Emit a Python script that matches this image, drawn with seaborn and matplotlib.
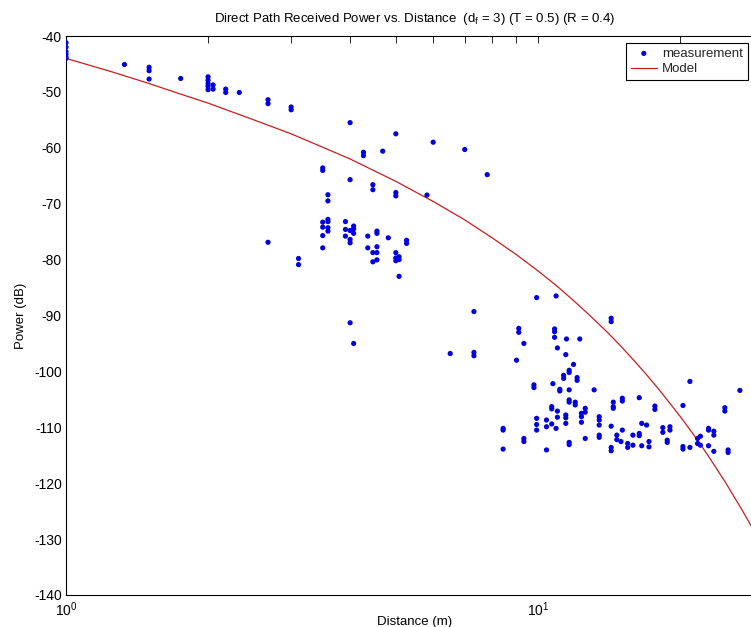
import matplotlib
matplotlib.use("Agg")
import matplotlib.pyplot as plt
import matplotlib.ticker as mticker
import seaborn as sns
import pandas as pd

# ---- data ----
meas_dist = [1, 1, 1, 1, 1, 1,
             1.33,
             1.5, 1.5, 1.5,
             1.75,
             2.0, 2.0, 2.0, 2.0, 2.0,
             2.05, 2.05,
             2.18, 2.18,
             2.33,
             2.68, 2.68, 2.68,
             3.0, 3.0,
             3.11, 3.11,
             3.5, 3.5, 3.5, 3.5, 3.5, 3.5,
             3.59, 3.59, 3.59, 3.59, 3.59, 3.59,
             3.91, 3.91, 3.91,
             4.0, 4.0, 4.0, 4.0, 4.0, 4.0,
             4.07, 4.07, 4.07, 4.07,
             4.27, 4.27,
             4.36, 4.36,
             4.47, 4.47, 4.47, 4.47,
             4.56, 4.56, 4.56, 4.56, 4.56,
             4.69,
             4.82,
             5.0, 5.0, 5.0, 5.0, 5.0, 5.0,
             5.08, 5.08, 5.08,
             5.27, 5.27,
             5.82,
             6.0,
             6.52,
             7.0,
             7.32, 7.32, 7.32,
             7.81,
             8.44, 8.44, 8.44,
             9.01,
             9.11, 9.11,
             9.34, 9.34, 9.34,
             9.81, 9.81,
             9.94, 9.94, 9.94, 9.94,
             10.43, 10.43, 10.43,
             10.7, 10.7, 10.7,
             10.76,
             10.85, 10.85, 10.85,
             10.93, 10.93,
             11.0, 11.0, 11.0,
             11.13, 11.13,
             11.34, 11.34,
             11.46, 11.46, 11.46, 11.46,
             11.5,
             11.65, 11.65, 11.65, 11.65, 11.65, 11.65, 11.65,
             11.9,
             12.0, 12.0,
             12.11, 12.11,
             12.27,
             12.37, 12.37, 12.37,
             12.6, 12.6, 12.6,
             13.16,
             13.49, 13.49, 13.49, 13.49, 13.49,
             14.3, 14.3, 14.3, 14.3, 14.3,
             14.45, 14.45, 14.45,
             14.7, 14.7,
             15.0,
             15.1, 15.1, 15.1,
             15.5, 15.5,
             15.9, 15.9,
             16.4, 16.4, 16.4,
             16.6, 16.6,
             17.0,
             17.2, 17.2,
             17.7, 17.7,
             18.4, 18.4,
             18.8, 18.8,
             19.05, 19.05,
             20.3, 20.3, 20.3,
             21.0, 21.0,
             21.8, 21.8,
             22.1, 22.1,
             23.0, 23.0, 23.0,
             23.6, 23.6, 23.6,
             24.9, 24.9,
             25.3, 25.3,
             26.8]

meas_power = [-41.2, -42.0, -42.8, -43.3, -43.8, -44.0,
              -45.1,
              -45.6, -46.2, -47.7,
              -47.6,
              -47.3, -47.9, -48.5, -49.0, -49.6,
              -48.75, -49.5,
              -49.5, -50.1,
              -50.1,
              -51.4, -52.1, -76.9,
              -52.7, -53.2,
              -79.8, -80.9,
              -63.6, -64.05, -73.3, -74.2, -75.7, -77.9,
              -68.4, -69.5, -72.8, -73.2, -74.3, -74.9,
              -73.2, -74.6, -75.8,
              -55.5, -65.7, -74.8, -76.4, -77.0, -91.3,
              -74.0, -74.5, -75.3, -95.0,
              -60.8, -61.4,
              -75.8, -77.9,
              -66.6, -67.5, -78.75, -80.4,
              -74.9, -75.3, -77.7, -78.75, -80.05,
              -60.6,
              -76.1,
              -57.5, -68.0, -68.6, -78.75, -79.7, -80.2,
              -79.5, -80.0, -83.0,
              -76.55, -77.1,
              -68.45,
              -59.0,
              -96.8,
              -60.3,
              -89.3, -96.6, -97.2,
              -64.8,
              -110.2, -110.5, -113.9,
              -98.0,
              -92.3, -93.0,
              -95.0, -112.0, -112.55,
              -102.4, -102.9,
              -86.8, -108.4, -109.5, -110.5,
              -108.7, -109.9, -114.05,
              -106.3, -106.7, -109.4,
              -102.2,
              -92.4, -92.9, -93.9,
              -86.5, -110.2,
              -95.8, -107.1, -108.2,
              -103.2, -103.5,
              -100.7, -101.25,
              -97.0, -107.8, -108.3, -109.3,
              -94.2,
              -99.8, -100.2, -103.3, -105.1, -105.5, -112.7, -113.1,
              -98.75,
              -105.5, -106.0,
              -101.1, -101.6,
              -94.2,
              -107.5, -108.1, -109.1,
              -106.6, -107.3, -112.0,
              -103.3,
              -108.1, -108.7, -109.6, -111.4, -111.8,
              -90.5, -91.1, -109.8, -113.6, -114.2,
              -105.5, -106.3, -106.6,
              -111.4, -112.2,
              -112.55,
              -104.8, -105.3, -110.5,
              -112.9, -113.6,
              -111.4, -113.2,
              -104.7, -111.1, -111.5,
              -109.3, -113.3,
              -109.6,
              -112.55, -113.5,
              -106.2, -106.8,
              -110.05, -110.9,
              -112.3, -112.7,
              -109.9, -110.5,
              -106.1, -113.45, -113.9,
              -101.8, -113.6,
              -112.0, -112.9,
              -111.6, -113.2,
              -110.2, -110.5, -113.3,
              -110.7, -111.4, -114.3,
              -106.5, -107.1,
              -114.05, -114.5,
              -103.4]

model_dist = [1, 1.25, 1.5, 1.75, 2, 2.5, 3, 3.5, 4, 5, 6, 7, 8, 9, 10,
              11, 12, 13, 14, 15, 16, 17, 18, 19, 20, 21, 22, 23, 24, 25,
              26, 27, 28, 29, 30]
model_power = [-44.0, -46.4, -48.5, -50.4, -52.0, -55.0, -57.5, -59.9, -62.0,
               -66.0, -69.6, -72.9, -76.1, -79.1, -82.0, -84.8, -87.6, -90.3,
               -92.9, -95.5, -98.1, -100.6, -103.1, -105.6, -108.0, -110.4,
               -112.8, -115.2, -117.6, -119.9, -122.3, -124.6, -126.9, -129.2,
               -131.5]

title_text = r"Direct Path Received Power vs. Distance  (d$_\mathregular{f}$ = 3) (T = 0.5) (R = 0.4)"
x_label = "Distance (m)"
y_label = "Power (dB)"
legend_labels = ["measurement", "Model"]

# ---- styling ----
sns.set_theme(style="white")
plt.rcParams["font.family"] = ["Liberation Sans", "DejaVu Sans"]
plt.rcParams["axes.unicode_minus"] = False
plt.rcParams["mathtext.fontset"] = "custom"
plt.rcParams["mathtext.rm"] = "Liberation Sans"
plt.rcParams["mathtext.it"] = "Liberation Sans"

W, H = 751, 627
fig = plt.figure(figsize=(W / 100, H / 100), dpi=100)
fig.patch.set_facecolor("white")
ax = fig.add_axes([66 / W, (H - 595) / H, (763 - 66) / W, (595 - 36) / H])

meas_df = pd.DataFrame({"dist": meas_dist, "power": meas_power})
model_df = pd.DataFrame({"dist": model_dist, "power": model_power})

sns.scatterplot(data=meas_df, x="dist", y="power", ax=ax, color="#0000e0",
                s=14, marker="o", edgecolor="none", linewidth=0,
                label=legend_labels[0], zorder=3)
sns.lineplot(data=model_df, x="dist", y="power", ax=ax, color="#c81e1e",
             linewidth=0.9, label=legend_labels[1], sort=True, zorder=2)

ax.set_xscale("log")
ax.set_xlim(1, 30)
ax.set_ylim(-140, -40)
ax.yaxis.set_major_locator(mticker.MultipleLocator(10))
ax.xaxis.set_major_locator(mticker.LogLocator(base=10))
ax.xaxis.set_minor_locator(mticker.LogLocator(base=10, subs=range(2, 10)))
ax.xaxis.set_minor_formatter(mticker.NullFormatter())

for s in ax.spines.values():
    s.set_color("black")
    s.set_linewidth(0.8)

ax.tick_params(axis="both", which="both", direction="in", top=True, right=True,
               colors="black", labelsize=10, width=0.6)
ax.tick_params(axis="both", which="major", length=5, pad=3)
ax.tick_params(axis="x", which="major", pad=4)
ax.tick_params(axis="x", which="minor", length=5)

ax.set_title(title_text, fontsize=9.5, pad=10, color="black")
ax.set_xlabel(x_label, fontsize=9.5, labelpad=-2, color="black")
ax.set_ylabel(y_label, fontsize=9.5, labelpad=5, color="black")

leg = ax.legend(loc="upper left", bbox_to_anchor=(626 / W, 1 - 43 / H),
                bbox_transform=fig.transFigure, frameon=True, fancybox=False,
                framealpha=1, edgecolor="black", fontsize=9.5, borderpad=0.35,
                labelspacing=0.25, handlelength=2.0, handletextpad=0.4,
                borderaxespad=0, scatterpoints=1)
leg.get_frame().set_linewidth(0.8)

fig.savefig("out.png", dpi=100, facecolor="white")
